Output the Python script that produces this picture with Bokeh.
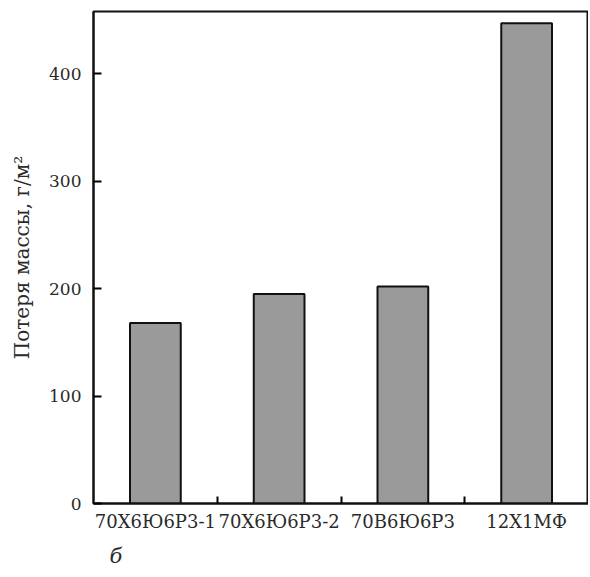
from bokeh.plotting import figure
from bokeh.models import FixedTicker, Range1d, Title
from bokeh.embed import file_html
from bokeh.resources import INLINE

categories = ["70Х6Ю6Р3-1", "70Х6Ю6Р3-2", "70В6Ю6Р3", "12Х1МФ"]
mass_loss = [168, 195, 202, 447]
y_ticks = [0, 100, 200, 300, 400]
y_label = "Потеря массы, г/м²"
panel_label = "б"

FONT = "DejaVu Serif"
positions = list(range(1, len(categories) + 1))
boundaries = [i + 0.5 for i in positions[:-1]]

p = figure(width=588, height=577, output_backend="svg", toolbar_location=None,
           x_range=Range1d(0.5, len(categories) + 0.5), y_range=Range1d(0, 458),
           min_border_left=93, min_border_top=11, min_border_right=0, min_border_bottom=74)

p.vbar(x=positions, top=mass_loss, width=0.41, bottom=0,
       fill_color="#9a9a9a", line_color="#111111", line_width=2)

p.xgrid.visible = False
p.ygrid.visible = False
p.outline_line_color = "#111111"
p.outline_line_width = 2
p.background_fill_color = "white"
p.border_fill_color = "white"

xa = p.xaxis[0]
xa.ticker = FixedTicker(ticks=positions, minor_ticks=boundaries)
xa.major_label_overrides = {pos: lab for pos, lab in zip(positions, categories)}
xa.major_tick_in = 0
xa.major_tick_out = 0
xa.minor_tick_in = 7
xa.minor_tick_out = 0
xa.minor_tick_line_width = 2
xa.axis_line_width = 2
xa.axis_line_color = "#111111"
xa.major_label_text_font = FONT
xa.major_label_text_font_size = "18px"
xa.major_label_text_color = "#2a2a2a"
xa.major_label_standoff = 7

ya = p.yaxis[0]
ya.ticker = FixedTicker(ticks=y_ticks, minor_ticks=[])
ya.major_tick_in = 8
ya.major_tick_out = 0
ya.major_tick_line_width = 2
ya.axis_line_width = 2
ya.axis_line_color = "#111111"
ya.major_label_text_font = FONT
ya.major_label_text_font_size = "17px"
ya.major_label_text_color = "#2a2a2a"
ya.major_label_standoff = 12
ya.axis_label = y_label
ya.axis_label_text_font = FONT
ya.axis_label_text_font_style = "normal"
ya.axis_label_text_font_size = "20px"
ya.axis_label_text_color = "#2a2a2a"
ya.axis_label_standoff = 12

p.add_layout(Title(text=panel_label, align="left", offset=16, standoff=14,
                   text_font=FONT, text_font_style="italic",
                   text_font_size="21px", text_color="#2a2a2a"), "below")

open("out.html", "w").write(file_html(p, INLINE))
